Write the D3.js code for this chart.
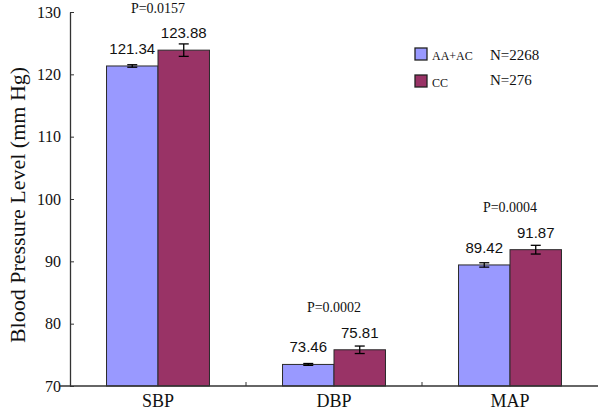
<!DOCTYPE html>
<html><head><meta charset="utf-8">
<script src="https://cdn.jsdelivr.net/npm/d3@7"></script>
<style>body{margin:0;background:#fff}svg{display:block}</style>
</head><body>
<script>
const categories = ["SBP", "DBP", "MAP"];
const series = ["AA+AC", "CC"];
const seriesN = ["N=2268", "N=276"];
const valuesAA = [121.34, 73.46, 89.42];
const valuesCC = [123.88, 75.81, 91.87];
const errAA = [0.2, 0.15, 0.35];
const errCC = [1.0, 0.6, 0.7];
const pValues = ["P=0.0157", "P=0.0002", "P=0.0004"];
const yTicks = [70, 80, 90, 100, 110, 120, 130];
const colors = ["#9999ff", "#993366"];

const W = 600, H = 412;
const svg = d3.select("body").append("svg").attr("width", W).attr("height", H);
const mLeft = 70, mRight = 598, mTop = 12, mBottom = 386;

const y = d3.scaleLinear().domain([70, 130]).range([mBottom, mTop]);
const x0 = d3.scaleBand().domain(categories).range([mLeft, mRight]).paddingInner(0.415).paddingOuter(0.2075);
const x1 = d3.scaleBand().domain(series).range([0, x0.bandwidth()]);

const data = categories.map((c, i) => ({
  cat: c, p: pValues[i],
  bars: [
    {s: series[0], v: valuesAA[i], e: errAA[i], col: colors[0]},
    {s: series[1], v: valuesCC[i], e: errCC[i], col: colors[1]}
  ]
}));

// bars
const g = svg.selectAll("g.grp").data(data).enter().append("g")
  .attr("transform", d => `translate(${x0(d.cat)},0)`);
g.selectAll("rect").data(d => d.bars).enter().append("rect")
  .attr("x", d => x1(d.s)).attr("y", d => y(d.v))
  .attr("width", x1.bandwidth()).attr("height", d => y(70) - y(d.v))
  .attr("fill", d => d.col).attr("stroke", "#2a2a2a").attr("stroke-width", 1);

// error bars
const eb = g.selectAll("g.eb").data(d => d.bars).enter().append("g")
  .attr("stroke", "#000").attr("stroke-width", 1.3);
eb.append("line").attr("x1", d => x1(d.s) + x1.bandwidth()/2).attr("x2", d => x1(d.s) + x1.bandwidth()/2)
  .attr("y1", d => y(d.v + d.e)).attr("y2", d => y(d.v - d.e));
eb.append("line").attr("x1", d => x1(d.s) + x1.bandwidth()/2 - 5).attr("x2", d => x1(d.s) + x1.bandwidth()/2 + 5)
  .attr("y1", d => y(d.v + d.e)).attr("y2", d => y(d.v + d.e));
eb.append("line").attr("x1", d => x1(d.s) + x1.bandwidth()/2 - 5).attr("x2", d => x1(d.s) + x1.bandwidth()/2 + 5)
  .attr("y1", d => y(d.v - d.e)).attr("y2", d => y(d.v - d.e));

// value labels
g.selectAll("text.val").data(d => d.bars).enter().append("text")
  .attr("x", d => x1(d.s) + x1.bandwidth()/2).attr("y", d => y(d.v) - 12)
  .attr("text-anchor", "middle").attr("font-family", "Liberation Sans, Arial, sans-serif")
  .attr("font-size", 15).attr("fill", "#111").text(d => d.v.toFixed(2));

// P labels
g.append("text").attr("x", x0.bandwidth()/2).attr("y", d => Math.max(y(d.bars[1].v) - 38, 13))
  .attr("text-anchor", "middle").attr("font-family", "Liberation Serif, Times New Roman, serif")
  .attr("font-size", 14).attr("fill", "#111").text(d => d.p);

// y axis
const yAxis = d3.axisLeft(y).tickValues(yTicks).tickSizeInner(-4).tickSizeOuter(0).tickPadding(9);
const ya = svg.append("g").attr("transform", `translate(${mLeft},0)`).call(yAxis);
ya.select(".domain").attr("stroke", "#333").attr("stroke-width", 1.3);
ya.selectAll(".tick line").attr("stroke", "#333");
ya.selectAll(".tick text").attr("font-family", "Liberation Serif, Times New Roman, serif")
  .attr("font-size", 16).attr("fill", "#111");

// x axis
svg.append("line").attr("x1", mLeft - 10).attr("x2", mRight).attr("y1", mBottom).attr("y2", mBottom)
  .attr("stroke", "#333").attr("stroke-width", 1.3);
const bounds = categories.slice(1).map(c => x0(c) - x0.step() * x0.paddingInner() / 2);
svg.selectAll("line.xt").data(bounds).enter().append("line")
  .attr("x1", d => d).attr("x2", d => d).attr("y1", mBottom).attr("y2", mBottom - 4)
  .attr("stroke", "#333");
svg.selectAll("text.cat").data(categories).enter().append("text")
  .attr("x", d => x0(d) + x0.bandwidth()/2).attr("y", 407)
  .attr("text-anchor", "middle").attr("font-family", "Liberation Serif, Times New Roman, serif")
  .attr("font-size", 18).attr("fill", "#111").text(d => d);

// y title
svg.append("text").attr("transform", "translate(25,205) rotate(-90)")
  .attr("text-anchor", "middle").attr("font-family", "Liberation Serif, Times New Roman, serif")
  .attr("font-size", 22).attr("fill", "#111").text("Blood Pressure Level (mm Hg)");

// legend
const lg = svg.append("g");
series.forEach((s, i) => {
  const yy = 48 + i * 27;
  lg.append("rect").attr("x", 415).attr("y", yy).attr("width", 12).attr("height", 12)
    .attr("fill", colors[i]).attr("stroke", "#222").attr("stroke-width", 1.3);
  lg.append("text").attr("x", 432).attr("y", yy + 12).attr("font-family", "Liberation Serif, Times New Roman, serif")
    .attr("font-size", 12).attr("fill", "#111").text(s);
  lg.append("text").attr("x", 490).attr("y", yy + 12 - i * 2).attr("font-family", "Liberation Serif, Times New Roman, serif")
    .attr("font-size", 15).attr("fill", "#111").text(seriesN[i]);
});
</script>
</body></html>
